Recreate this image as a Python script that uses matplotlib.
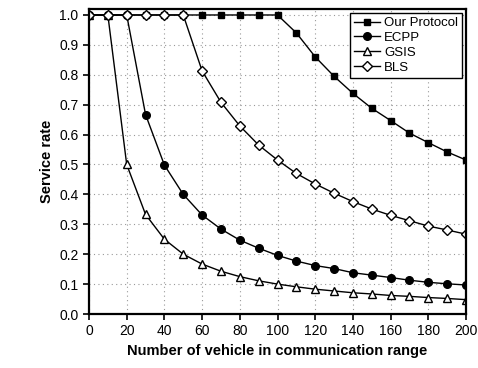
import numpy as np
import matplotlib as mpl
mpl.use('Agg')
import matplotlib.pyplot as plt

# data
x = np.arange(0, 201, 10)
our_protocol = [1.0, 1.0, 1.0, 1.0, 1.0, 1.0, 1.0, 1.0, 1.0, 1.0, 1.0,
                0.94, 0.86, 0.795, 0.738, 0.688, 0.647, 0.605, 0.573, 0.542, 0.515]
ecpp = [1.0, 1.0, 1.0, 0.667, 0.498, 0.40, 0.331, 0.284, 0.247, 0.22, 0.196,
        0.177, 0.162, 0.152, 0.138, 0.13, 0.122, 0.113, 0.106, 0.101, 0.097]
gsis = [1.0, 1.0, 0.50, 0.333, 0.25, 0.20, 0.167, 0.143, 0.125, 0.111, 0.10,
        0.091, 0.083, 0.077, 0.071, 0.067, 0.062, 0.059, 0.055, 0.052, 0.048]
bls = [1.0, 1.0, 1.0, 1.0, 1.0, 1.0, 0.813, 0.708, 0.629, 0.565, 0.515,
       0.47, 0.435, 0.404, 0.376, 0.351, 0.33, 0.312, 0.294, 0.281, 0.267]

series = [('Our Protocol', our_protocol, 's', 'k', 5.0),
          ('ECPP', ecpp, 'o', 'k', 5.5),
          ('GSIS', gsis, '^', 'w', 5.5),
          ('BLS', bls, 'D', 'w', 4.8)]

plt.rc('font', family='Liberation Sans')
ftsize = 10

plot_width = 4.78
plot_height = 3.68
fig, axes = plt.subplots(1, 1, figsize=(plot_width, plot_height), dpi=100)

for name, y, mk, fc, ms in series:
    axes.plot(x, y, '-', color='k', linewidth=1.0, marker=mk, markersize=ms,
              markerfacecolor=fc, markeredgecolor='k', markeredgewidth=1.0,
              label=name)

axes.set_xlim(0, 200)
axes.set_ylim(0, 1.02)
axes.set_xticks(np.arange(0, 201, 20))
axes.set_yticks(np.arange(0, 1.01, 0.1))
axes.set_yticklabels(['%.1f' % v for v in np.arange(0, 1.01, 0.1)])
axes.tick_params(direction='out', length=4, width=1.2, labelsize=ftsize)
axes.grid(True, linestyle=(0, (1, 3)), color='#999999', linewidth=0.8)
for sp in axes.spines.values():
    sp.set_linewidth(1.6)

axes.set_xlabel('Number of vehicle in communication range',
                fontsize=ftsize + 0.5, fontweight='bold')
axes.set_ylabel('Service rate', fontsize=ftsize + 0.5, fontweight='bold')

leg = axes.legend(loc='upper right', fontsize=ftsize - 0.5, fancybox=False,
                  edgecolor='k', framealpha=1, borderpad=0.3,
                  handlelength=2.0, handletextpad=0.3, labelspacing=0.2,
                  borderaxespad=0.3)
leg.get_frame().set_linewidth(1.0)

plt.subplots_adjust(left=89 / 478, right=466 / 478,
                    bottom=1 - 314 / 368, top=1 - 9 / 368)

plt.savefig('out.png', dpi=100)
